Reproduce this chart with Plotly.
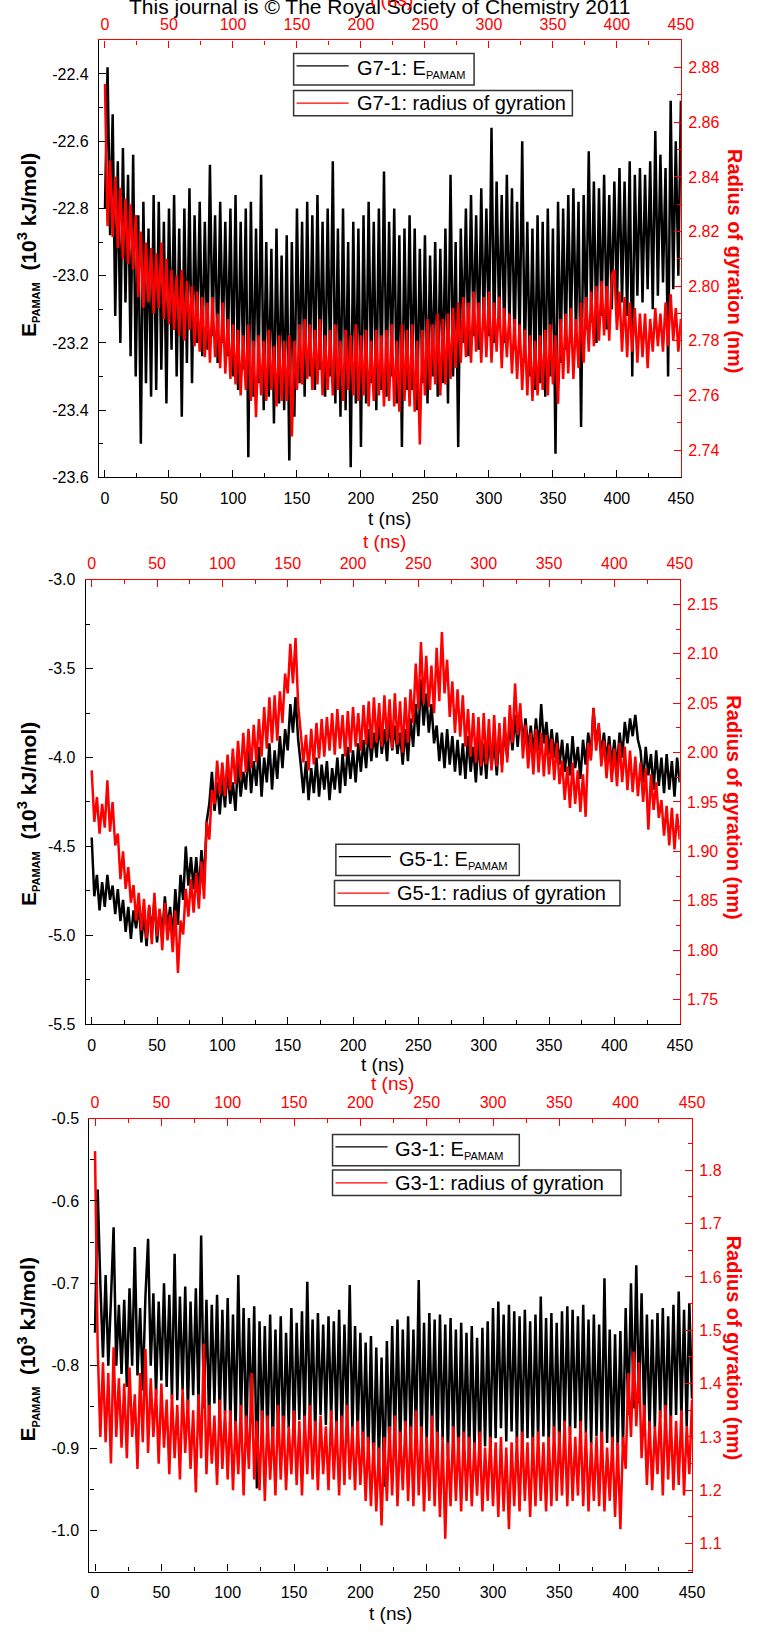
import plotly.graph_objects as go

W, H = 763, 1633

# ---------------- data (t in ns, every 2 ns) ----------------
T = list(range(0, 451, 2))

E_G7 = [
    -22.80, -22.38, -22.88, -22.52, -23.12, -22.66, -23.20, -22.62, -23.08, -22.70,
    -23.24, -22.64, -23.30, -22.82, -23.50, -22.78, -23.32, -22.86, -23.36, -22.76,
    -23.34, -22.78, -23.28, -22.84, -23.38, -22.80, -23.22, -22.76, -23.30, -22.86,
    -23.42, -22.80, -23.26, -22.74, -23.32, -22.82, -23.20, -22.78, -23.24, -22.84,
    -23.22, -22.67, -23.18, -22.82, -23.26, -22.78, -23.20, -22.84, -23.24, -22.80,
    -23.30, -22.76, -23.34, -22.84, -23.28, -22.80, -23.54, -22.78, -23.36, -22.86,
    -23.32, -22.70, -23.40, -22.90, -23.36, -22.92, -23.44, -22.86, -23.38, -22.94,
    -23.40, -22.88, -23.55, -22.90, -23.42, -22.80, -23.32, -22.84, -23.36, -22.78,
    -23.30, -22.82, -23.34, -22.76, -23.28, -22.84, -23.36, -22.80, -23.30, -22.66,
    -23.38, -22.86, -23.42, -22.80, -23.40, -22.90, -23.57, -22.84, -23.38, -22.86,
    -23.51, -22.82, -23.38, -22.78, -23.32, -22.84, -23.40, -22.80, -23.34, -22.69,
    -23.36, -22.84, -23.30, -22.80, -23.38, -22.88, -23.51, -22.86, -23.34, -22.82,
    -23.34, -22.86, -23.40, -22.92, -23.32, -22.88, -23.38, -22.94, -23.30, -22.90,
    -23.36, -22.92, -23.32, -22.86, -23.38, -22.70, -23.30, -22.90, -23.51, -22.86,
    -23.20, -22.80, -23.24, -22.76, -23.18, -22.82, -23.22, -22.74, -23.16, -22.80,
    -23.18, -22.56, -23.20, -22.72, -23.14, -22.76, -23.20, -22.70, -23.16, -22.74,
    -23.22, -22.78, -23.20, -22.60, -23.26, -22.84, -23.30, -22.86, -23.34, -22.82,
    -23.32, -22.84, -23.36, -22.80, -23.30, -22.86, -23.53, -22.78, -23.26, -22.80,
    -23.22, -22.76, -23.20, -22.74, -23.18, -22.78, -23.45, -22.76, -23.16, -22.63,
    -23.14, -22.72, -23.20, -22.74, -23.12, -22.70, -23.16, -22.76, -23.10, -22.72,
    -23.10, -22.68, -23.08, -22.72, -23.12, -22.66, -23.30, -22.70, -23.06, -22.68,
    -23.08, -22.70, -23.04, -22.66, -23.10, -22.57, -23.06, -22.64, -23.02, -22.68,
    -23.30, -22.48, -23.04, -22.60, -23.00, -22.48,
]

RG_G7 = [
    2.874, 2.822, 2.846, 2.818, 2.840, 2.814, 2.836, 2.810, 2.832, 2.808,
    2.830, 2.806, 2.826, 2.796, 2.820, 2.792, 2.816, 2.794, 2.814, 2.790,
    2.812, 2.792, 2.816, 2.788, 2.810, 2.786, 2.806, 2.784, 2.804, 2.782,
    2.806, 2.780, 2.802, 2.784, 2.800, 2.778, 2.798, 2.776, 2.796, 2.774,
    2.794, 2.772, 2.796, 2.774, 2.790, 2.770, 2.794, 2.768, 2.788, 2.766,
    2.786, 2.764, 2.784, 2.760, 2.782, 2.762, 2.786, 2.758, 2.780, 2.752,
    2.782, 2.760, 2.780, 2.758, 2.784, 2.762, 2.778, 2.756, 2.782, 2.758,
    2.780, 2.758, 2.782, 2.745, 2.780, 2.762, 2.786, 2.764, 2.788, 2.766,
    2.786, 2.762, 2.784, 2.764, 2.788, 2.760, 2.782, 2.762, 2.784, 2.760,
    2.786, 2.762, 2.780, 2.758, 2.784, 2.762, 2.782, 2.760, 2.786, 2.758,
    2.782, 2.760, 2.784, 2.756, 2.780, 2.758, 2.784, 2.760, 2.782, 2.756,
    2.784, 2.758, 2.786, 2.756, 2.780, 2.754, 2.786, 2.758, 2.784, 2.756,
    2.786, 2.754, 2.780, 2.742, 2.784, 2.760, 2.788, 2.762, 2.786, 2.764,
    2.790, 2.760, 2.788, 2.764, 2.790, 2.766, 2.792, 2.770, 2.794, 2.772,
    2.796, 2.774, 2.794, 2.772, 2.798, 2.776, 2.794, 2.772, 2.796, 2.774,
    2.798, 2.772, 2.794, 2.776, 2.796, 2.770, 2.792, 2.774, 2.790, 2.768,
    2.788, 2.766, 2.786, 2.762, 2.784, 2.760, 2.782, 2.758, 2.780, 2.760,
    2.782, 2.762, 2.784, 2.760, 2.786, 2.764, 2.782, 2.757, 2.788, 2.766,
    2.790, 2.768, 2.792, 2.766, 2.788, 2.770, 2.794, 2.772, 2.796, 2.776,
    2.798, 2.778, 2.800, 2.780, 2.802, 2.782, 2.800, 2.780, 2.804, 2.806,
    2.784, 2.798, 2.776, 2.796, 2.774, 2.794, 2.776, 2.792, 2.772, 2.790,
    2.774, 2.790, 2.770, 2.788, 2.776, 2.792, 2.778, 2.790, 2.776, 2.794,
    2.778, 2.797, 2.780, 2.792, 2.776, 2.788,
]

E_G5 = [
    -4.45, -4.78, -4.66, -4.86, -4.70, -4.84, -4.66, -4.80, -4.72, -4.88,
    -4.74, -4.92, -4.80, -4.98, -4.84, -5.02, -4.86, -4.96, -4.82, -5.04,
    -4.88, -5.06, -4.84, -4.98, -4.80, -5.04, -4.86, -5.00, -4.78, -4.96,
    -4.84, -5.02, -4.74, -4.94, -4.66, -4.80, -4.50, -4.72, -4.56, -4.74,
    -4.56, -4.76, -4.52, -4.70, -4.36, -4.26, -4.08, -4.30, -4.14, -4.32,
    -4.12, -4.28, -4.06, -4.26, -4.14, -4.30, -4.02, -4.22, -4.08, -4.18,
    -3.96, -4.20, -4.02, -4.16, -3.94, -4.22, -4.00, -4.14, -3.92, -4.18,
    -3.96, -4.12, -3.88, -4.06, -3.84, -3.96, -3.70, -3.86, -3.66, -3.90,
    -4.04, -4.20, -4.02, -4.24, -4.06, -4.20, -4.00, -4.22, -4.04, -4.18,
    -4.02, -4.24, -4.06, -4.18, -4.00, -4.20, -3.98, -4.16, -3.94, -4.12,
    -3.96, -4.14, -3.92, -4.08, -3.90, -4.06, -3.84, -4.02, -3.86, -4.00,
    -3.80, -3.98, -3.84, -4.02, -3.78, -3.96, -3.82, -3.98, -3.86, -4.04,
    -3.84, -4.02, -3.78, -3.94, -3.70, -3.88, -3.56, -3.82, -3.64, -3.86,
    -3.70, -3.92, -3.82, -4.02, -3.86, -4.06, -3.84, -4.04, -3.88, -4.08,
    -3.90, -4.10, -3.92, -4.12, -3.88, -4.08, -3.94, -4.14, -3.90, -4.10,
    -3.92, -4.12, -3.88, -4.06, -3.90, -4.10, -3.86, -4.04, -3.84, -4.00,
    -3.80, -3.96, -3.76, -3.94, -3.74, -3.92, -3.78, -3.96, -3.82, -3.98,
    -3.78, -3.96, -3.70, -3.92, -3.80, -3.98, -3.84, -4.00, -3.86, -4.04,
    -3.90, -4.08, -3.92, -4.10, -3.88, -4.06, -3.94, -4.12, -3.90, -4.04,
    -3.86, -4.00, -3.72, -3.92, -3.82, -3.98, -3.86, -4.02, -3.88, -4.04,
    -3.90, -4.06, -3.86, -4.00, -3.80, -3.92, -3.78, -3.88, -3.76, -3.90,
    -3.96, -4.14, -3.94, -4.10, -3.98, -4.18, -3.96, -4.16, -4.00, -4.20,
    -3.98, -4.18, -4.02, -4.22, -4.00, -4.14,
]

RG_G5 = [
    1.982, 1.930, 1.955, 1.918, 1.948, 1.924, 1.972, 1.920, 1.950, 1.906,
    1.918, 1.872, 1.900, 1.862, 1.884, 1.848, 1.866, 1.830, 1.858, 1.820,
    1.852, 1.812, 1.846, 1.806, 1.858, 1.814, 1.842, 1.800, 1.848, 1.810,
    1.836, 1.798, 1.840, 1.777, 1.830, 1.816, 1.862, 1.834, 1.872, 1.838,
    1.878, 1.842, 1.890, 1.852, 1.930, 1.912, 1.962, 1.948, 1.992, 1.958,
    1.990, 1.956, 1.998, 1.962, 2.004, 1.968, 2.012, 1.974, 2.020, 1.980,
    2.024, 1.984, 2.028, 1.990, 2.034, 1.996, 2.046, 2.004, 2.056, 2.010,
    2.058, 2.012, 2.062, 2.030, 2.080, 2.060, 2.110, 2.070, 2.116, 2.048,
    2.020, 1.990, 2.018, 1.982, 2.024, 1.988, 2.030, 1.994, 2.034, 1.996,
    2.036, 2.002, 2.040, 1.998, 2.044, 2.004, 2.038, 1.996, 2.042, 2.000,
    2.046, 2.006, 2.040, 2.002, 2.048, 2.008, 2.052, 2.004, 2.056, 2.010,
    2.050, 2.006, 2.058, 2.012, 2.054, 2.004, 2.060, 2.008, 2.052, 2.000,
    2.056, 2.010, 2.064, 2.030, 2.090, 2.044, 2.112, 2.050, 2.098, 2.046,
    2.088, 2.040, 2.106, 2.052, 2.122, 2.060, 2.094, 2.036, 2.072, 2.020,
    2.064, 2.016, 2.058, 2.006, 2.044, 1.996, 2.040, 1.990, 2.036, 1.986,
    2.040, 1.988, 2.034, 1.982, 2.038, 1.986, 2.030, 1.980, 2.036, 1.990,
    2.048, 2.010, 2.070, 2.018, 2.050, 1.994, 2.028, 1.984, 2.020, 1.978,
    2.024, 1.980, 2.020, 1.976, 2.018, 1.978, 2.014, 1.972, 2.010, 1.968,
    1.992, 1.952, 1.986, 1.944, 1.990, 1.948, 1.982, 1.940, 1.978, 1.935,
    2.010, 1.992, 2.045, 2.002, 2.030, 1.986, 2.012, 1.974, 2.008, 1.970,
    2.004, 1.966, 2.010, 1.970, 2.006, 1.962, 2.002, 1.960, 1.996, 1.956,
    1.990, 1.950, 1.984, 1.922, 1.978, 1.942, 1.970, 1.934, 1.952, 1.916,
    1.946, 1.906, 1.944, 1.902, 1.938, 1.912,
]

E_G3 = [
    -0.760, -0.586, -0.700, -0.790, -0.690, -0.800, -0.720, -0.632, -0.800, -0.726,
    -0.810, -0.720, -0.826, -0.706, -0.800, -0.656, -0.812, -0.730, -0.830, -0.716,
    -0.646, -0.800, -0.712, -0.836, -0.722, -0.818, -0.700, -0.826, -0.714, -0.840,
    -0.664, -0.842, -0.716, -0.830, -0.704, -0.856, -0.722, -0.836, -0.706, -0.848,
    -0.642, -0.852, -0.720, -0.870, -0.726, -0.846, -0.714, -0.866, -0.732, -0.858,
    -0.718, -0.872, -0.738, -0.880, -0.690, -0.866, -0.730, -0.894, -0.742, -0.870,
    -0.728, -0.949, -0.746, -0.880, -0.752, -0.892, -0.738, -0.902, -0.756, -0.884,
    -0.740, -0.900, -0.760, -0.876, -0.730, -0.888, -0.748, -0.866, -0.734, -0.878,
    -0.698, -0.870, -0.744, -0.884, -0.736, -0.860, -0.750, -0.872, -0.740, -0.866,
    -0.746, -0.878, -0.732, -0.890, -0.750, -0.868, -0.702, -0.880, -0.752, -0.886,
    -0.760, -0.900, -0.772, -0.912, -0.764, -0.930, -0.778, -0.918, -0.790, -0.947,
    -0.770, -0.910, -0.752, -0.898, -0.744, -0.904, -0.756, -0.892, -0.740, -0.900,
    -0.756, -0.888, -0.696, -0.902, -0.748, -0.896, -0.736, -0.884, -0.744, -0.906,
    -0.738, -0.890, -0.750, -0.910, -0.742, -0.894, -0.756, -0.916, -0.748, -0.900,
    -0.760, -0.912, -0.752, -0.904, -0.766, -0.920, -0.754, -0.898, -0.746, -0.908,
    -0.730, -0.888, -0.722, -0.876, -0.738, -0.892, -0.726, -0.880, -0.734, -0.894,
    -0.740, -0.900, -0.732, -0.888, -0.746, -0.904, -0.738, -0.892, -0.716, -0.886,
    -0.742, -0.898, -0.736, -0.890, -0.748, -0.902, -0.734, -0.880, -0.728, -0.884,
    -0.732, -0.876, -0.740, -0.890, -0.726, -0.882, -0.744, -0.896, -0.738, -0.886,
    -0.750, -0.900, -0.694, -0.894, -0.756, -0.910, -0.762, -0.904, -0.758, -0.898,
    -0.730, -0.860, -0.700, -0.852, -0.678, -0.846, -0.712, -0.870, -0.738, -0.880,
    -0.744, -0.876, -0.736, -0.864, -0.730, -0.880, -0.740, -0.872, -0.726, -0.860,
    -0.710, -0.866, -0.732, -0.874, -0.724, -0.840,
]

RG_G3 = [
    1.836, 1.470, 1.300, 1.440, 1.290, 1.420, 1.250, 1.468, 1.300, 1.410,
    1.280, 1.400, 1.260, 1.430, 1.300, 1.380, 1.240, 1.420, 1.290, 1.465,
    1.270, 1.410, 1.300, 1.390, 1.250, 1.400, 1.280, 1.370, 1.230, 1.380,
    1.260, 1.360, 1.220, 1.390, 1.270, 1.370, 1.240, 1.350, 1.196, 1.380,
    1.260, 1.475, 1.230, 1.360, 1.250, 1.340, 1.210, 1.370, 1.240, 1.350,
    1.220, 1.350, 1.200, 1.330, 1.230, 1.360, 1.190, 1.340, 1.240, 1.420,
    1.220, 1.330, 1.200, 1.350, 1.180, 1.340, 1.220, 1.320, 1.190, 1.360,
    1.220, 1.340, 1.200, 1.320, 1.230, 1.350, 1.210, 1.330, 1.190, 1.340,
    1.230, 1.360, 1.220, 1.330, 1.200, 1.340, 1.230, 1.320, 1.200, 1.350,
    1.220, 1.330, 1.190, 1.340, 1.210, 1.360, 1.220, 1.320, 1.200, 1.330,
    1.210, 1.310, 1.180, 1.300, 1.170, 1.290, 1.160, 1.280, 1.134, 1.300,
    1.180, 1.320, 1.190, 1.340, 1.170, 1.310, 1.200, 1.330, 1.180, 1.320,
    1.170, 1.350, 1.190, 1.320, 1.160, 1.300, 1.180, 1.340, 1.170, 1.310,
    1.150, 1.300, 1.109, 1.290, 1.170, 1.320, 1.180, 1.300, 1.160, 1.310,
    1.180, 1.300, 1.170, 1.290, 1.190, 1.310, 1.160, 1.280, 1.180, 1.300,
    1.170, 1.290, 1.150, 1.300, 1.160, 1.280, 1.127, 1.290, 1.170, 1.300,
    1.160, 1.310, 1.180, 1.290, 1.150, 1.300, 1.170, 1.310, 1.180, 1.290,
    1.160, 1.300, 1.170, 1.320, 1.180, 1.310, 1.190, 1.330, 1.170, 1.320,
    1.180, 1.300, 1.190, 1.330, 1.170, 1.310, 1.160, 1.290, 1.180, 1.300,
    1.170, 1.310, 1.160, 1.280, 1.180, 1.300, 1.150, 1.290, 1.127, 1.300,
    1.240, 1.420, 1.300, 1.460, 1.320, 1.440, 1.260, 1.360, 1.210, 1.330,
    1.200, 1.320, 1.230, 1.350, 1.190, 1.360, 1.220, 1.340, 1.200, 1.330,
    1.210, 1.350, 1.190, 1.320, 1.230, 1.370,
]

# tick values / labels
X_TICKS = [0, 50, 100, 150, 200, 250, 300, 350, 400, 450]
X_TICKTEXT = ["0", "50", "100", "150", "200", "250", "300", "350", "400", "450"]

G7_E_TICKS = [-23.6, -23.4, -23.2, -23.0, -22.8, -22.6, -22.4]
G7_E_TEXT = ["-23.6", "-23.4", "-23.2", "-23.0", "-22.8", "-22.6", "-22.4"]
G7_R_TICKS = [2.74, 2.76, 2.78, 2.80, 2.82, 2.84, 2.86, 2.88]
G7_R_TEXT = ["2.74", "2.76", "2.78", "2.80", "2.82", "2.84", "2.86", "2.88"]

G5_E_TICKS = [-5.5, -5.0, -4.5, -4.0, -3.5, -3.0]
G5_E_TEXT = ["-5.5", "-5.0", "-4.5", "-4.0", "-3.5", "-3.0"]
G5_R_TICKS = [1.75, 1.80, 1.85, 1.90, 1.95, 2.00, 2.05, 2.10, 2.15]
G5_R_TEXT = ["1.75", "1.80", "1.85", "1.90", "1.95", "2.00", "2.05", "2.10", "2.15"]

G3_E_TICKS = [-1.0, -0.9, -0.8, -0.7, -0.6, -0.5]
G3_E_TEXT = ["-1.0", "-0.9", "-0.8", "-0.7", "-0.6", "-0.5"]
G3_R_TICKS = [1.1, 1.2, 1.3, 1.4, 1.5, 1.6, 1.7, 1.8, 1.9]
G3_R_TEXT = ["1.1", "1.2", "1.3", "1.4", "1.5", "1.6", "1.7", "1.8", "1.9"]

SUB = '<sub><span style="font-size:11px">PAMAM</span></sub>'
LEGEND_E = ["G7-1: E" + SUB, "G5-1: E" + SUB, "G3-1: E" + SUB]
LEGEND_R = ["G7-1: radius of gyration", "G5-1: radius of gyration", "G3-1: radius of gyration"]

# ---------------- layout helpers ----------------
FONT = "Liberation Sans, Arial, sans-serif"
RED = "#ff0000"
LW = 2.5


def px(x):
    return x / W


def py(y):
    return 1 - y / H


panels = [
    dict(box=(100.7, 32.7, 692.7, 474.3), xr=[-4.7, 450],
         yl=[-23.6, -22.3], yr=[2.730, 2.890],
         e=E_G7, r=RG_G7, el=(G7_E_TICKS, G7_E_TEXT, 0.1), rl=(G7_R_TICKS, G7_R_TEXT, 0.01),
         leg1=(298.7, 46, 482.3, 77.7), leg2=(298.7, 83.3, 582.3, 109),
         ltitle_y=240, rtitle_y=256, red_title_y=-9, black_title_y=516),
    dict(box=(87.3, 577.7, 691.5, 1027), xr=[-4.5, 450],
         yl=[-5.5, -3.0], yr=[1.725, 2.175],
         e=E_G5, r=RG_G5, el=(G5_E_TICKS, G5_E_TEXT, 0.25), rl=(G5_R_TICKS, G5_R_TEXT, 0.025),
         leg1=(341.7, 845, 528.3, 876.7), leg2=(340.3, 881.7, 630.7, 907.3),
         ltitle_y=815, rtitle_y=808, red_title_y=539, black_title_y=1068),
    dict(box=(91, 1122.3, 704, 1580), xr=[-4.2, 450],
         yl=[-1.05, -0.5], yr=[1.0475, 1.897],
         e=E_G3, r=RG_G3, el=(G3_E_TICKS, G3_E_TEXT, 0.05), rl=(G3_R_TICKS, G3_R_TEXT, 0.05),
         leg1=(338.3, 1138.3, 528.3, 1170), leg2=(338.3, 1174.3, 631.7, 1200),
         ltitle_y=1356, rtitle_y=1354, red_title_y=1087, black_title_y=1622),
]

fig = go.Figure()
layout = dict(
    width=W, height=H, margin=dict(l=0, r=0, t=0, b=0),
    paper_bgcolor="white", plot_bgcolor="white", showlegend=False,
    font=dict(family=FONT, size=16, color="black"),
)
shapes = []
annotations = []

annotations.append(dict(
    text="This journal is © The Royal Society of Chemistry 2011",
    x=px(386), y=py(-2), xref="paper", yref="paper", xanchor="center", yanchor="middle",
    showarrow=False, font=dict(size=21, color="black", family=FONT)))

for i, p in enumerate(panels):
    xb, xt, yl, yr = 2 * i + 1, 2 * i + 2, 2 * i + 1, 2 * i + 2
    x0, y0, x1, y1 = p["box"]
    xdom = [px(x0), px(x1)]
    ydom = [py(y1), py(y0)]

    def name(kind, n):
        return kind + ("" if n == 1 else str(n))

    common = dict(showgrid=False, zeroline=False, showline=True, linewidth=1.3,
                  ticks="inside", ticklen=7, tickwidth=1)
    layout[name("xaxis", xb)] = dict(
        common, domain=xdom, anchor=name("y", yl), side="bottom", range=p["xr"],
        tickmode="array", tickvals=X_TICKS, ticktext=X_TICKTEXT,
        linecolor="black", tickcolor="black", tickfont=dict(size=16, color="black"),
        ticklabelstandoff=6,
        minor=dict(ticks="inside", ticklen=4, tickcolor="black", dtick=25, tick0=0))
    layout[name("xaxis", xt)] = dict(
        common, overlaying=name("x", xb), anchor=name("y", yl), side="top", range=p["xr"],
        tickmode="array", tickvals=X_TICKS, ticktext=X_TICKTEXT,
        linecolor=RED, tickcolor=RED, tickfont=dict(size=16, color=RED),
        ticklabelstandoff=3,
        minor=dict(ticks="inside", ticklen=4, tickcolor=RED, dtick=25, tick0=0))
    et, etxt, emin = p["el"]
    layout[name("yaxis", yl)] = dict(
        common, domain=ydom, anchor=name("x", xb), side="left", range=p["yl"],
        tickmode="array", tickvals=et, ticktext=etxt,
        linecolor="black", tickcolor="black", tickfont=dict(size=16, color="black"),
        ticklabelstandoff=6,
        minor=dict(ticks="inside", ticklen=4, tickcolor="black", dtick=emin, tick0=et[0]))
    rt, rtxt, rmin = p["rl"]
    layout[name("yaxis", yr)] = dict(
        common, overlaying=name("y", yl), anchor=name("x", xb), side="right", range=p["yr"],
        tickmode="array", tickvals=rt, ticktext=rtxt,
        linecolor=RED, tickcolor=RED, tickfont=dict(size=16, color=RED),
        ticklabelstandoff=3,
        minor=dict(ticks="inside", ticklen=4, tickcolor=RED, dtick=rmin, tick0=rt[0]))

    fig.add_trace(go.Scatter(x=T, y=p["e"], mode="lines", line=dict(color="black", width=LW),
                             xaxis=name("x", xb), yaxis=name("y", yl), hoverinfo="skip"))
    fig.add_trace(go.Scatter(x=T, y=p["r"], mode="lines", line=dict(color=RED, width=LW),
                             xaxis=name("x", xt), yaxis=name("y", yr), hoverinfo="skip"))

    cx = (x0 + x1) / 2
    annotations.append(dict(text="t (ns)", x=px(cx), y=py(p["black_title_y"]), xref="paper",
                            yref="paper", xanchor="center", yanchor="middle", showarrow=False,
                            font=dict(size=19, color="black", family=FONT)))
    annotations.append(dict(text="t (ns)", x=px(cx + 2), y=py(p["red_title_y"]), xref="paper",
                            yref="paper", xanchor="center", yanchor="middle", showarrow=False,
                            font=dict(size=19, color=RED, family=FONT)))
    annotations.append(dict(text="<b>E" + SUB + "  (10<sup>3</sup> kJ/mol)</b>",
                            x=px(28), y=py(p["ltitle_y"]), xref="paper", yref="paper",
                            xanchor="center", yanchor="middle", textangle=-90, showarrow=False,
                            font=dict(size=21, color="black", family=FONT)))
    annotations.append(dict(text="<b>Radius of gyration (nm)</b>",
                            x=px(747), y=py(p["rtitle_y"]), xref="paper", yref="paper",
                            xanchor="center", yanchor="middle", textangle=90, showarrow=False,
                            font=dict(size=20, color=RED, family=FONT)))

    for (bx0, by0, bx1, by1), color, text in (
            (p["leg1"], "black", LEGEND_E[i]), (p["leg2"], RED, LEGEND_R[i])):
        shapes.append(dict(type="rect", xref="paper", yref="paper",
                           x0=px(bx0), x1=px(bx1), y0=py(by1), y1=py(by0),
                           line=dict(color="#333333", width=1.5), fillcolor="white", layer="above"))
        ly = by0 + 12.5 if color == "black" else (by0 + by1) / 2
        shapes.append(dict(type="line", xref="paper", yref="paper",
                           x0=px(bx0 + 3), x1=px(bx0 + 56), y0=py(ly), y1=py(ly),
                           line=dict(color=color, width=1.3), layer="above"))
        annotations.append(dict(text=text, x=px(bx0 + 62), y=py(ly + (3 if color == "black" else 0)),
                                xref="paper", yref="paper",
                                xanchor="left", yanchor="middle", showarrow=False,
                                font=dict(size=20, color="black", family=FONT)))

layout["shapes"] = shapes
layout["annotations"] = annotations
fig.update_layout(**layout)
fig.write_html("out.html")
